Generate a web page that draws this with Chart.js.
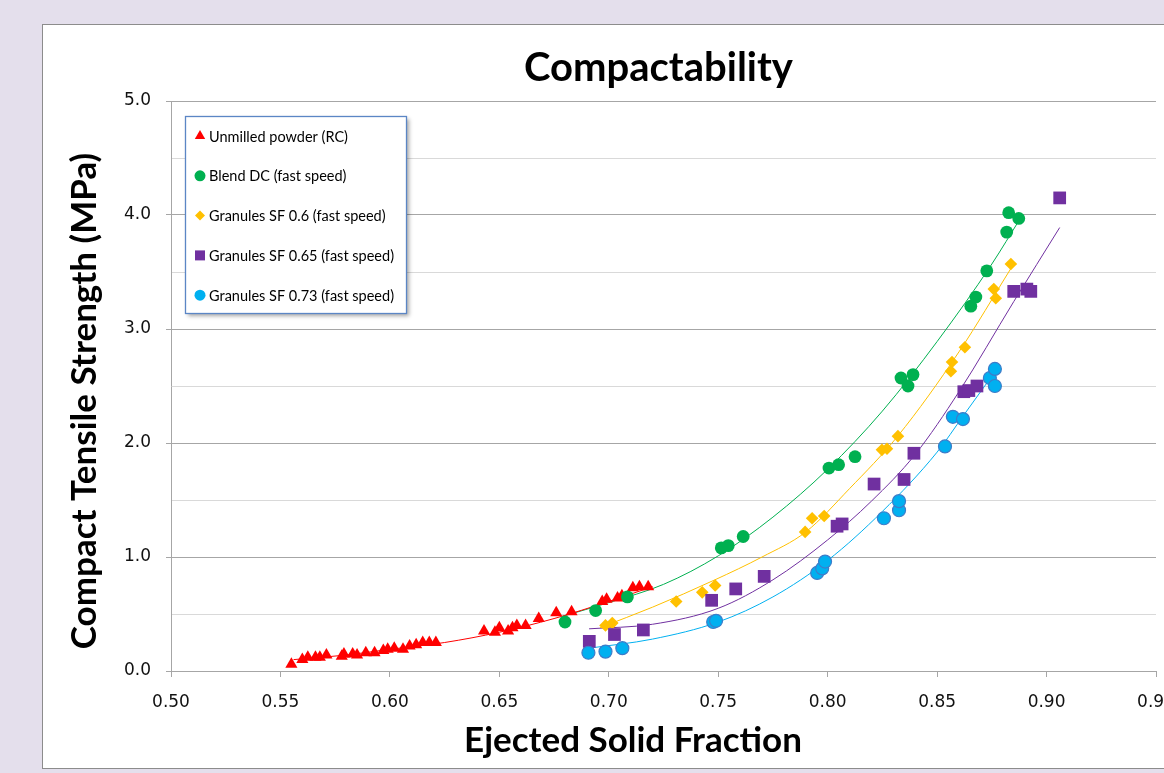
<!DOCTYPE html>
<html>
<head>
<meta charset="utf-8">
<title>Compactability</title>
<script src="https://cdn.jsdelivr.net/npm/chart.js@4.4.1/dist/chart.umd.min.js"></script>
<style>
  html, body { margin: 0; padding: 0; width: 1164px; height: 773px; overflow: hidden; background: #e4dfec; }
  #frame { position: absolute; left: 42px; top: 24px; width: 1231px; height: 743px; background: #fff; border: 1px solid #8c8c8c; }
  #frame canvas { display: block; }
</style>
</head>
<body>
<div id="frame"><canvas id="compactability-chart" width="1231" height="743"></canvas></div>
<script>
// x tick labels (ejected solid fraction)
const xTicks = [0.50, 0.55, 0.60, 0.65, 0.70, 0.75, 0.80, 0.85, 0.90, 0.95];
// y tick labels (tensile strength, MPa)
const yTicks = [0.0, 1.0, 2.0, 3.0, 4.0, 5.0];

const seriesNames = [
    'Unmilled powder (RC)',
    'Blend DC (fast speed)',
    'Granules SF 0.6 (fast speed)',
    'Granules SF 0.65 (fast speed)',
    'Granules SF 0.73 (fast speed)'
];

// Unmilled powder (RC)
const unmilledSF = [0.555, 0.560, 0.5625, 0.566, 0.568, 0.571, 0.578, 0.579, 0.583, 0.585,
    0.589, 0.593, 0.597, 0.599, 0.602, 0.606, 0.609, 0.612, 0.615, 0.618,
    0.621, 0.643, 0.648, 0.650, 0.654, 0.656, 0.658, 0.662, 0.668, 0.676,
    0.683, 0.697, 0.699, 0.704, 0.706, 0.711, 0.714, 0.718];
const unmilledTS = [0.06, 0.10, 0.12, 0.12, 0.12, 0.14, 0.13, 0.15, 0.15, 0.14,
    0.16, 0.16, 0.18, 0.19, 0.20, 0.19, 0.22, 0.23, 0.25, 0.25,
    0.25, 0.35, 0.34, 0.38, 0.35, 0.38, 0.40, 0.40, 0.46, 0.51,
    0.52, 0.61, 0.63, 0.64, 0.66, 0.73, 0.74, 0.74];

// Blend DC (fast speed)
const blendSF = [0.680, 0.694, 0.7085, 0.7514, 0.7546, 0.7614, 0.8006, 0.805, 0.8125,
    0.8335, 0.8367, 0.839, 0.8654, 0.8677, 0.8727, 0.8818, 0.8827, 0.8873];
const blendTS = [0.43, 0.53, 0.65, 1.08, 1.10, 1.18, 1.78, 1.81, 1.88,
    2.57, 2.50, 2.60, 3.20, 3.28, 3.51, 3.85, 4.02, 3.97];

// Granules SF 0.6 (fast speed)
const sf060SF = [0.6985, 0.7016, 0.7308, 0.7427, 0.7486, 0.7897, 0.7929, 0.7984, 0.8248,
    0.8271, 0.8321, 0.8563, 0.8568, 0.8627, 0.8759, 0.8768, 0.8837];
const sf060TS = [0.40, 0.42, 0.61, 0.69, 0.75, 1.22, 1.34, 1.36, 1.94,
    1.95, 2.06, 2.63, 2.71, 2.84, 3.35, 3.27, 3.57];

// Granules SF 0.65 (fast speed)
const sf065SF = [0.6911, 0.7026, 0.7158, 0.747, 0.758, 0.771, 0.8043, 0.8066, 0.8212,
    0.8349, 0.8394, 0.8622, 0.8645, 0.8682, 0.885, 0.891, 0.8928, 0.906];
const sf065TS = [0.26, 0.32, 0.36, 0.62, 0.72, 0.83, 1.27, 1.29, 1.64,
    1.68, 1.91, 2.45, 2.46, 2.50, 3.33, 3.35, 3.33, 4.15];

// Granules SF 0.73 (fast speed)
const sf073SF = [0.6907, 0.6985, 0.7062, 0.7477, 0.749, 0.7952, 0.7975, 0.7988, 0.8257,
    0.8326, 0.8326, 0.8536, 0.8572, 0.8618, 0.8741, 0.8764, 0.8764];
const sf073TS = [0.16, 0.17, 0.20, 0.43, 0.44, 0.86, 0.90, 0.96, 1.34,
    1.41, 1.49, 1.97, 2.23, 2.21, 2.57, 2.65, 2.50];

// trendlines
const unmilledTrendSF = [0.556, 0.58, 0.60, 0.625, 0.65, 0.675, 0.70, 0.72];
const unmilledTrendTS = [0.10, 0.14, 0.19, 0.25, 0.34, 0.46, 0.61, 0.74];
const blendTrendSF = [0.679, 0.70, 0.725, 0.75, 0.775, 0.80, 0.825, 0.85, 0.875, 0.888];
const blendTrendTS = [0.48, 0.60, 0.76, 1.01, 1.35, 1.77, 2.28, 2.89, 3.57, 3.97];
const sf060TrendSF = [0.696, 0.72, 0.7485, 0.77, 0.79, 0.81, 0.832, 0.86, 0.884];
const sf060TrendTS = [0.38, 0.56, 0.80, 1.00, 1.22, 1.60, 2.06, 2.80, 3.54];
const sf065TrendSF = [0.691, 0.72, 0.75, 0.775, 0.80, 0.82, 0.84, 0.86, 0.885, 0.906];
const sf065TrendTS = [0.37, 0.41, 0.55, 0.80, 1.15, 1.49, 1.90, 2.45, 3.24, 3.89];
const sf073TrendSF = [0.691, 0.72, 0.75, 0.775, 0.80, 0.825, 0.85, 0.862, 0.877];
const sf073TrendTS = [0.20, 0.28, 0.43, 0.65, 0.97, 1.40, 1.92, 2.24, 2.64];

const xTitle = 'Ejected Solid Fraction';
const yTitle = 'Compact Tensile Strength (MPa)';

const colors = ['#ff0000', '#00b050', '#ffc000', '#7030a0', '#00b0f0'];
const borders = ['#ff0000', '#00b050', '#ffc000', '#7030a0', '#3d7cc9'];
const styles = ['triangle', 'circle', 'rectRot', 'rect', 'circle'];
const radii = [7, 6.4, 6.3, 9, 6.5];

function toPoints(xs, ys) {
    return xs.map((x, i) => ({ x: x, y: ys[i] }));
}

function isWhole(v) {
    return Math.abs(v - Math.round(v)) < 1e-6;
}

const pointSets = [
    [unmilledSF, unmilledTS],
    [blendSF, blendTS],
    [sf060SF, sf060TS],
    [sf065SF, sf065TS],
    [sf073SF, sf073TS]
];
const trendSets = [
    [unmilledTrendSF, unmilledTrendTS],
    [blendTrendSF, blendTrendTS],
    [sf060TrendSF, sf060TrendTS],
    [sf065TrendSF, sf065TrendTS],
    [sf073TrendSF, sf073TrendTS]
];

const datasets = [];
pointSets.forEach((set, i) => {
    datasets.push({
        label: seriesNames[i],
        data: toPoints(set[0], set[1]),
        pointStyle: styles[i],
        pointRadius: radii[i],
        backgroundColor: colors[i],
        borderColor: borders[i],
        borderWidth: i === 4 ? 1.2 : 0,
        showLine: false,
        order: 5 - i
    });
});
trendSets.forEach((set, i) => {
    datasets.push({
        label: seriesNames[i] + ' trend',
        trend: true,
        data: toPoints(set[0], set[1]),
        showLine: true,
        borderColor: colors[i],
        borderWidth: 1,
        pointRadius: 0,
        cubicInterpolationMode: 'monotone',
        order: 10
    });
});

function drawMarker(ctx, style, x, y, r) {
    ctx.beginPath();
    if (style === 'triangle') {
        ctx.moveTo(x, y - r);
        ctx.lineTo(x + r * 0.866, y + r * 0.5);
        ctx.lineTo(x - r * 0.866, y + r * 0.5);
        ctx.closePath();
    } else if (style === 'rectRot') {
        ctx.moveTo(x, y - r);
        ctx.lineTo(x + r, y);
        ctx.lineTo(x, y + r);
        ctx.lineTo(x - r, y);
        ctx.closePath();
    } else if (style === 'rect') {
        ctx.rect(x - r, y - r, 2 * r, 2 * r);
    } else {
        ctx.arc(x, y, r, 0, Math.PI * 2);
    }
    ctx.fill();
}

// boxed legend sitting inside the plot, like the spreadsheet one
const boxLegend = {
    id: 'boxLegend',
    afterDraw(chart) {
        const ctx = chart.ctx;
        const left = 142, top = 91, w = 221, h = 197;
        ctx.save();
        ctx.shadowColor = 'rgba(0,0,0,0.35)';
        ctx.shadowBlur = 4;
        ctx.shadowOffsetX = 3;
        ctx.shadowOffsetY = 3;
        ctx.fillStyle = '#ffffff';
        ctx.fillRect(left, top, w, h);
        ctx.shadowColor = 'transparent';
        ctx.strokeStyle = '#5b86c5';
        ctx.lineWidth = 1.3;
        ctx.strokeRect(left + 0.5, top + 0.5, w, h);

        const sizes = [6, 5.5, 5, 5, 5.5];
        ctx.font = '14.5px Lato';
        ctx.textBaseline = 'middle';
        chart.data.datasets.filter(ds => !ds.trend).forEach((ds, i) => {
            const y = 111 + i * 39.8;
            ctx.fillStyle = colors[i];
            drawMarker(ctx, styles[i], 157, y, sizes[i]);
            ctx.fillStyle = '#000';
            ctx.fillText(ds.label, 166, y + 1);
        });
        ctx.restore();
    }
};

// axis titles sit a little off the plot centre in the original, so draw them here
const axisTitles = {
    id: 'axisTitles',
    afterDraw(chart) {
        const ctx = chart.ctx;
        ctx.save();
        ctx.font = 'bold 35px Lato';
        ctx.fillStyle = '#000';
        ctx.textAlign = 'center';
        ctx.textBaseline = 'middle';
        ctx.fillText(xTitle, 590, 716);
        ctx.translate(42, 376);
        ctx.rotate(-Math.PI / 2);
        ctx.fillText(yTitle, 0, 0);
        ctx.restore();
    }
};

const titleFont = { family: 'Lato', size: 40, weight: 'bold' };
const tickFont = { family: 'DejaVu Sans', size: 17 };

new Chart(document.getElementById('compactability-chart'), {
    type: 'scatter',
    data: { datasets: datasets },
    plugins: [boxLegend, axisTitles],
    options: {
        responsive: false,
        animation: false,
        layout: { padding: 0 },
        plugins: {
            legend: { display: false },
            tooltip: { enabled: false },
            title: {
                display: true,
                text: 'Compactability',
                color: '#000',
                font: titleFont,
                padding: { top: 19, bottom: 9 }
            }
        },
        scales: {
            x: {
                type: 'linear',
                min: xTicks[0],
                max: xTicks[xTicks.length - 1],
                afterFit: scale => { scale.height = 97; },
                afterBuildTicks: scale => { scale.ticks = xTicks.map(v => ({ value: v })); },
                ticks: {
                    autoSkip: false,
                    maxRotation: 0,
                    padding: 15,
                    color: '#111',
                    font: tickFont,
                    callback: v => v.toFixed(2)
                },
                grid: {
                    drawOnChartArea: false,
                    drawTicks: true,
                    tickLength: 6,
                    tickColor: '#a6a6a6'
                },
                border: { color: '#a6a6a6', width: 1 }
            },
            y: {
                type: 'linear',
                min: yTicks[0],
                max: yTicks[yTicks.length - 1],
                afterFit: scale => { scale.width = 128; },
                ticks: {
                    stepSize: 0.5,
                    autoSkip: false,
                    padding: 15,
                    color: '#111',
                    font: tickFont,
                    callback: v => yTicks.some(t => Math.abs(t - v) < 1e-6) ? v.toFixed(1) : ''
                },
                grid: {
                    color: c => (c.tick && isWhole(c.tick.value)) ? '#a6a6a6' : '#d9d9d9',
                    tickColor: c => (c.tick && isWhole(c.tick.value)) ? '#a6a6a6' : 'rgba(0,0,0,0)',
                    tickLength: 5,
                    lineWidth: 1
                },
                border: { color: '#a6a6a6', width: 1 }
            },
            // empty margin on the right of the plot, so the title centres on the whole frame
            rightMargin: {
                type: 'linear',
                position: 'right',
                afterFit: scale => { scale.width = 118; },
                ticks: { display: false },
                grid: { display: false },
                border: { display: false }
            }
        }
    }
});
</script>
</body>
</html>
